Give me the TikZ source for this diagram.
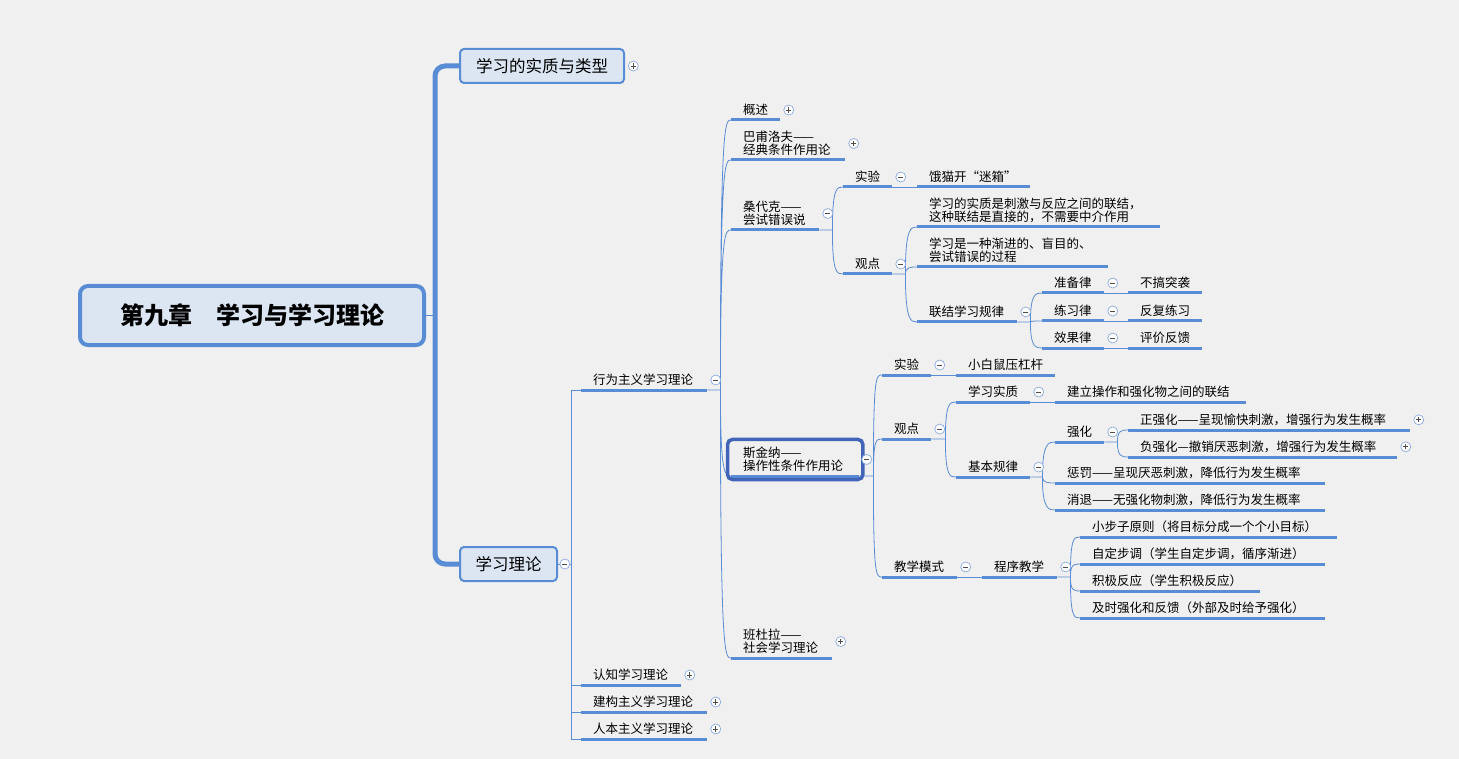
\documentclass[tikz,border=0pt]{standalone}
\usepackage{fontspec}
\usetikzlibrary{positioning,fit}
\newfontfamily\cjk{Noto Sans CJK SC}
\definecolor{lineblue}{RGB}{88,140,212}
\definecolor{boxfill}{RGB}{220,230,242}
\definecolor{selblue}{RGB}{66,100,184}
\definecolor{iconblue}{RGB}{138,170,222}
\definecolor{bggray}{RGB}{240,240,240}

\begin{document}
\begin{tikzpicture}[x=1pt,y=-1pt,
every node/.style={font=\cjk\fontsize{12.5}{13}\selectfont},
topic/.style={anchor=south west,inner xsep=12pt,inner ysep=4pt,
text width=#1,align=left},
bigbox/.style={draw=lineblue,fill=boxfill,line width=2pt,
rounded corners=4pt,font=\cjk\fontsize{16.5}{18}\selectfont},
rootbox/.style={draw=lineblue,fill=boxfill,line width=4pt,
rounded corners=8pt,font=\cjk\bfseries\fontsize{24}{26}\selectfont},
selbox/.style={draw=selblue,line width=3.5pt,rounded corners=5pt,inner sep=3.5pt},
conn/.style={draw=lineblue,line width=0.8pt},
uline/.style={draw=lineblue,line width=3pt},
trunk/.style={draw=lineblue,line width=5pt,rounded corners=10pt},
curve/.style={to path={.. controls (\tikztostart |- \tikztotarget)
and ([xshift=-6pt]\tikztotarget) .. (\tikztotarget)}},
icon/.style={circle,draw=iconblue,fill=white,line width=0.7pt,
minimum size=10pt,inner sep=0pt},
minusicon/.style={icon,path picture={\draw[line width=0.8pt,black!70]
([xshift=-2.6pt]path picture bounding box.center) --
([xshift=2.6pt]path picture bounding box.center);}},
plusicon/.style={icon,path picture={\draw[line width=0.8pt,black!70]
([xshift=-2.6pt]path picture bounding box.center) --
([xshift=2.6pt]path picture bounding box.center)
([yshift=-2.6pt]path picture bounding box.center) --
([yshift=2.6pt]path picture bounding box.center);}}]

\path[use as bounding box,fill=bggray] (0,0) rectangle (1459,759);

\node[rootbox,minimum width=344pt,minimum height=59pt] (root) at (252,315.5)
{第九章　学习与学习理论};
\node[bigbox,minimum width=164pt,minimum height=34pt] (b1) at (542,66)
{学习的实质与类型};
\node[bigbox,minimum width=97pt,minimum height=34pt] (b2) at (508.5,564)
{学习理论};

\node[topic=102pt] (xw) at (581,390) {行为主义学习理论};
\node[topic=76pt] (rz) at (581,685) {认知学习理论};
\node[topic=102pt] (jg) at (581,712) {建构主义学习理论};
\node[topic=102pt] (rb) at (581,739) {人本主义学习理论};

\node[topic=25pt] (gs) at (731,120) {概述};
\node[topic=90pt] (pav) at (731,160) {巴甫洛夫——\\经典条件作用论};
\node[topic=64pt] (thd) at (731,230) {桑代克——\\尝试错误说};
\node[topic=104pt] (skn) at (731,476) {斯金纳——\\操作性条件作用论};
\node[topic=77pt] (bdl) at (731,658) {班杜拉——\\社会学习理论};

\node[topic=25pt] (tsy) at (843,187) {实验};
\node[topic=89pt] (tsy1) at (917,187) {饿猫开“迷箱”};
\node[topic=25pt] (tgd) at (843,274) {观点};
\node[topic=219pt] (tg1) at (917,227)
{学习的实质是刺激与反应之间的联结，\\这种联结是直接的，不需要中介作用};
\node[topic=167pt] (tg2) at (917,267) {学习是一种渐进的、盲目的、\\尝试错误的过程};
\node[topic=76pt] (tg3) at (917,322) {联结学习规律};
\node[topic=38pt] (zb) at (1042,293) {准备律};
\node[topic=38pt] (lx) at (1042,321) {练习律};
\node[topic=38pt] (xg) at (1042,348) {效果律};
\node[topic=50pt] (zb1) at (1128,293) {不搞突袭};
\node[topic=50pt] (lx1) at (1128,321) {反复练习};
\node[topic=50pt] (xg1) at (1128,348) {评价反馈};

\node[topic=25pt] (ssy) at (882,375) {实验};
\node[topic=75pt] (ssy1) at (956,375) {小白鼠压杠杆};
\node[topic=25pt] (sgd) at (882,439) {观点};
\node[topic=51pt] (sjx) at (882,577) {教学模式};
\node[topic=50pt] (sz) at (956,402) {学习实质};
\node[topic=167pt] (sz1) at (1055,402) {建立操作和强化物之间的联结};
\node[topic=50pt] (jb) at (956,477) {基本规律};
\node[topic=25pt] (qh) at (1055,442) {强化};
\node[topic=258pt] (zq) at (1128,430) {正强化——呈现愉快刺激，增强行为发生概率};
\node[topic=245pt] (fq) at (1128,457) {负强化—撤销厌恶刺激，增强行为发生概率};
\node[topic=246pt] (cf) at (1055,483) {惩罚——呈现厌恶刺激，降低行为发生概率};
\node[topic=246pt] (xt) at (1055,510) {消退——无强化物刺激，降低行为发生概率};
\node[topic=51pt] (cx) at (982,577) {程序教学};
\node[topic=233pt] (c1) at (1080,537) {小步子原则（将目标分成一个个小目标）};
\node[topic=221pt] (c2) at (1080,564) {自定步调（学生自定步调，循序渐进）};
\node[topic=156pt] (c3) at (1080,591) {积极反应（学生积极反应）};
\node[topic=221pt] (c4) at (1080,618) {及时强化和反馈（外部及时给予强化）};

\coordinate (j0) at ([xshift=9pt]root.east);
\coordinate (jlt) at ([xshift=13pt]b2.east);
\coordinate (jxw) at ([xshift=13pt]xw.south east);
\coordinate (jthd) at ([xshift=13pt]thd.south east);
\coordinate (jtgd) at ([xshift=13pt]tgd.south east);
\coordinate (jtg3) at ([xshift=13pt]tg3.south east);
\coordinate (jskn) at ([xshift=14pt]skn.south east);
\coordinate (jsgd) at ([xshift=14pt]sgd.south east);
\coordinate (jjb) at ([xshift=12pt]jb.south east);
\coordinate (jqh) at ([xshift=13pt]qh.south east);
\coordinate (jcx) at ([xshift=13pt]cx.south east);

\draw[conn] (root.east) -- (j0);
\draw[trunk] (b1.west) -| (j0) |- (b2.west);
\draw[conn] (b2.east) -- (jlt) foreach \c in {xw,rz,jg,rb} {(jlt) |- (\c.south west)};
\draw[conn] (xw.south east) -- (jxw)
foreach \c in {gs,pav,thd,skn,bdl} {(jxw) to[curve] (\c.south west)};
\draw[conn] (thd.south east) -- (jthd)
foreach \c in {tsy,tgd} {(jthd) to[curve] (\c.south west)};
\draw[conn] (tgd.south east) -- (jtgd)
foreach \c in {tg1,tg2,tg3} {(jtgd) to[curve] (\c.south west)};
\draw[conn] (tg3.south east) -- (jtg3)
foreach \c in {zb,lx,xg} {(jtg3) to[curve] (\c.south west)};
\draw[conn] (skn.south east) -- (jskn)
foreach \c in {ssy,sgd,sjx} {(jskn) to[curve] (\c.south west)};
\draw[conn] (sgd.south east) -- (jsgd)
foreach \c in {sz,jb} {(jsgd) to[curve] (\c.south west)};
\draw[conn] (jb.south east) -- (jjb)
foreach \c in {qh,cf,xt} {(jjb) to[curve] (\c.south west)};
\draw[conn] (qh.south east) -- (jqh)
foreach \c in {zq,fq} {(jqh) to[curve] (\c.south west)};
\draw[conn] (cx.south east) -- (jcx)
foreach \c in {c1,c2,c3,c4} {(jcx) to[curve] (\c.south west)};
\foreach \a/\b in {tsy/tsy1,zb/zb1,lx/lx1,xg/xg1,ssy/ssy1,sz/sz1,sjx/cx}
\draw[conn] (\a.south east) -- (\b.south west);

\foreach \n in {xw,rz,jg,rb,gs,pav,thd,skn,bdl,tsy,tsy1,tgd,tg1,tg2,tg3,
zb,lx,xg,zb1,lx1,xg1,ssy,ssy1,sgd,sjx,sz,sz1,jb,qh,zq,fq,cf,xt,cx,c1,c2,c3,c4}
\draw[uline] (\n.south west) -- (\n.south east);

\node[selbox,fit=(skn)] (sknbox) {};

\node[plusicon,right=3pt of b1] (ib1) {};
\node[minusicon,right=1.5pt of b2] (ib2) {};
\node[minusicon,right=2pt of skn] (iskn) {};
\foreach \n in {rz,jg,rb,gs,pav,bdl,zq,fq}
\node[plusicon,right=3pt of \n] (i\n) {};
\foreach \n in {xw,thd,tsy,tgd,tg3,zb,lx,xg,ssy,sgd,sjx,sz,jb,qh,cx}
\node[minusicon,right=3pt of \n] (i\n) {};
\end{tikzpicture}
\end{document}
